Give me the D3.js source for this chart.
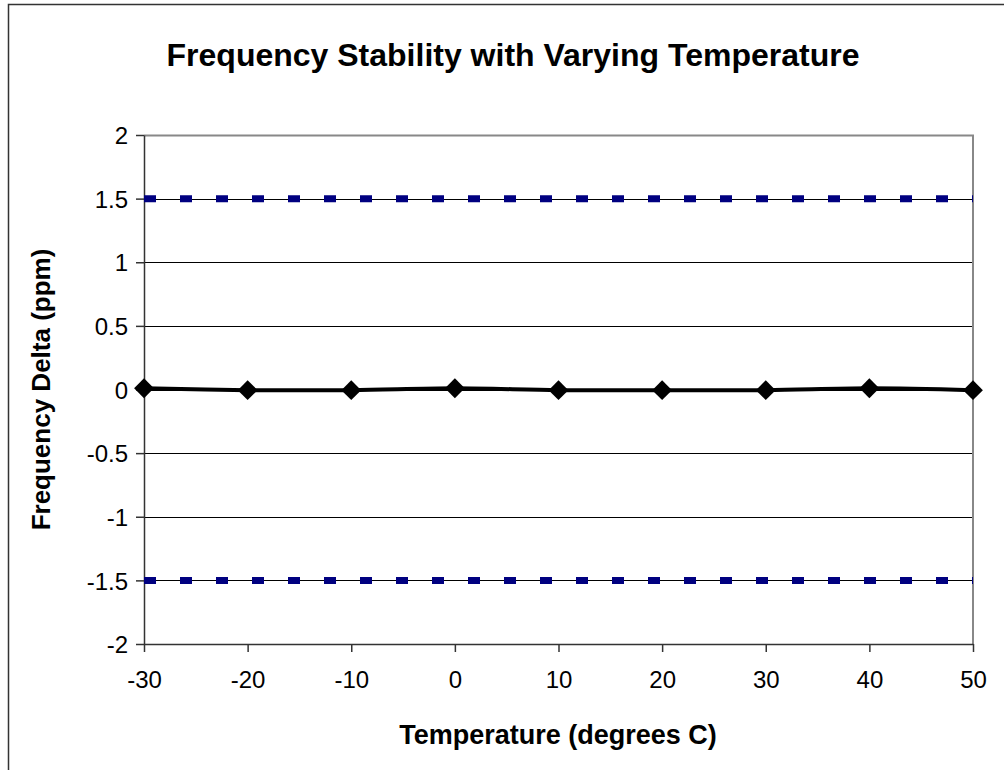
<!DOCTYPE html>
<html>
<head>
<meta charset="utf-8">
<script src="https://cdn.jsdelivr.net/npm/d3@7"></script>
<style>
  body { margin: 0; background: #fff; }
  svg text { font-family: "Liberation Sans", Arial, sans-serif; fill: #000; }
</style>
</head>
<body>
<div id="chart"></div>
<script>
// data
var temperatures = [-30, -20, -10, 0, 10, 20, 30, 40, 50];
var freqDelta = [0.01, -0.005, -0.005, 0.01, -0.005, -0.005, -0.005, 0.01, -0.005];
var upperLimit = [1.5, 1.5];
var lowerLimit = [-1.5, -1.5];
var yTicks = [-2, -1.5, -1, -0.5, 0, 0.5, 1, 1.5, 2];
var xTicks = [-30, -20, -10, 0, 10, 20, 30, 40, 50];

var width = 1004, height = 770;
var margin = {top: 135, right: 31, bottom: 126, left: 144};
var iw = width - margin.left - margin.right,
    ih = height - margin.top - margin.bottom;

var svg = d3.select('#chart').append('svg')
  .attr('width', width)
  .attr('height', height);

// outer chart border (runs off the right/bottom of the picture)
svg.append('rect')
  .attr('x', 8.5).attr('y', 4.5)
  .attr('width', 1200).attr('height', 1000)
  .style('fill', '#fff')
  .style('stroke', '#333')
  .style('stroke-width', 1.5);

var x = d3.scaleLinear().domain([-30, 50]).range([0, iw]);
var y = d3.scaleLinear().domain([-2, 2]).range([ih, 0]);

var g = svg.append('g')
  .attr('transform', 'translate(' + margin.left + ',' + margin.top + ')');

// gridlines
g.append('g').selectAll('line')
  .data(yTicks.slice(1, -1))
  .enter().append('line')
  .attr('x1', 0).attr('x2', iw)
  .attr('y1', function(d) { return Math.round(y(d)) + 0.5; })
  .attr('y2', function(d) { return Math.round(y(d)) + 0.5; })
  .style('stroke', '#000')
  .style('stroke-width', 1);

// plot area frame (top / right in grey)
g.append('path')
  .attr('d', 'M0,0.5H' + iw + 'V' + ih)
  .style('fill', 'none')
  .style('stroke', '#888')
  .style('stroke-width', 2);

// axes
var yAxis = g.append('g')
  .call(d3.axisLeft(y).tickValues(yTicks).tickSize(8).tickSizeOuter(0)
    .tickFormat(function(d) { return String(d); }));
var xAxis = g.append('g')
  .attr('transform', 'translate(0,' + ih + ')')
  .call(d3.axisBottom(x).tickValues(xTicks).tickSize(8).tickSizeOuter(0)
    .tickFormat(function(d) { return String(d); }));

[yAxis, xAxis].forEach(function(a) {
  a.select('.domain').style('stroke', '#333').style('stroke-width', 1.5);
  a.selectAll('.tick line').style('stroke', '#333').style('stroke-width', 1.5);
  a.selectAll('.tick text')
    .style('font-size', '24px')
    .style('font-family', '"Liberation Sans", Arial, sans-serif');
});
yAxis.selectAll('.tick text').attr('x', -16).attr('dy', '0.36em');
xAxis.selectAll('.tick text').attr('y', 27);

// spec limits (dotted navy)
var limitX = d3.scaleLinear().domain([0, 1]).range([-30, 50]);
var limitLine = d3.line()
  .x(function(d, i) { return x(limitX(i)); })
  .y(function(d) { return y(d); });

[upperLimit, lowerLimit].forEach(function(vals) {
  g.append('path')
    .datum(vals)
    .attr('d', limitLine)
    .style('fill', 'none')
    .style('stroke', '#000080')
    .style('stroke-width', 7)
    .style('stroke-dasharray', '12,24');
});

// measured frequency delta
var line = d3.line()
  .x(function(d, i) { return x(temperatures[i]); })
  .y(function(d) { return y(d); })
  .curve(d3.curveCatmullRom);

g.append('path')
  .datum(freqDelta)
  .attr('d', line)
  .style('fill', 'none')
  .style('stroke', '#000')
  .style('stroke-width', 4);

g.selectAll('.marker')
  .data(freqDelta)
  .enter().append('path')
  .attr('class', 'marker')
  .attr('transform', function(d, i) {
    return 'translate(' + x(temperatures[i]) + ',' + y(d) + ') rotate(45)';
  })
  .attr('d', 'M-7,-7H7V7H-7Z')
  .style('fill', '#000');

// titles
svg.append('text')
  .attr('x', 513).attr('y', 66)
  .attr('text-anchor', 'middle')
  .style('font-size', '32px')
  .style('font-weight', 'bold')
  .text('Frequency Stability with Varying Temperature');

svg.append('text')
  .attr('x', 558).attr('y', 744)
  .attr('text-anchor', 'middle')
  .style('font-size', '27px')
  .style('font-weight', 'bold')
  .text('Temperature (degrees C)');

svg.append('text')
  .attr('transform', 'translate(50,' + (margin.top + ih / 2) + ') rotate(-90)')
  .attr('text-anchor', 'middle')
  .style('font-size', '26px')
  .style('font-weight', 'bold')
  .text('Frequency Delta (ppm)');
</script>
</body>
</html>
